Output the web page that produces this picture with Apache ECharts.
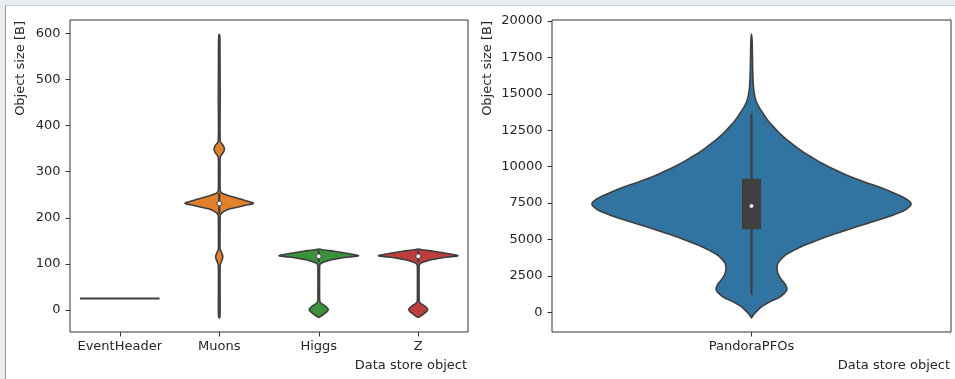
<!DOCTYPE html>
<html><head><meta charset="utf-8">
<script src="https://cdn.jsdelivr.net/npm/echarts@6/dist/echarts.min.js"></script>
<style>
html,body{margin:0;padding:0;width:955px;height:379px;overflow:hidden;background:#e9edf1;}
#frame{position:absolute;left:5px;top:5px;right:0;bottom:0;background:#fff;border-left:1px solid #8d949b;border-top:1px solid #cfd4d9;}
#chart{position:absolute;left:0;top:0;width:955px;height:379px;}
</style></head><body><div id="frame"></div><div id="chart"></div>
<script>
// ---------- data ----------
const leftCategories = ['EventHeader', 'Muons', 'Higgs', 'Z'];
const rightCategories = ['PandoraPFOs'];
const leftTicks = [0, 100, 200, 300, 400, 500, 600];
const rightTicks = [0, 2500, 5000, 7500, 10000, 12500, 15000, 17500, 20000];
const leftRange = [-47.7, 628.9];
const rightRange = [-1353, 20069];
const yLabel = 'Object size [B]';
const xLabel = 'Data store object';

// EventHeader: a single constant value
const eventHeaderValue = 25;

// violin profiles: [object size, relative density (1 = widest violin of the panel)]
const muonsProfile = [
  [-17, 0], [-12, 0.02], [50, 0.02], [97, 0.022], [102, 0.04], [106, 0.06], [111, 0.08], [115.5, 0.09],
  [120, 0.08], [125, 0.055], [129, 0.035], [134, 0.02], [180, 0.02], [205, 0.025], [209, 0.05],
  [214, 0.12], [219, 0.25], [223, 0.45], [227, 0.66], [231.5, 0.86], [236, 0.72], [240, 0.56],
  [244, 0.4], [248, 0.24], [252, 0.1], [256, 0.04], [260, 0.022], [300, 0.02], [331, 0.025],
  [337, 0.06], [343, 0.11], [349, 0.13], [355, 0.11], [361, 0.06], [366, 0.025], [420, 0.02],
  [460, 0.024], [520, 0.02], [592, 0.015], [598, 0]
];
const higgsProfile = [
  [-16, 0], [-12, 0.08], [-7, 0.16], [-2, 0.22], [1.5, 0.24], [5, 0.21], [10, 0.14], [14, 0.07],
  [18, 0.03], [24, 0.022], [60, 0.02], [97, 0.024], [100, 0.045], [103, 0.1], [106, 0.2],
  [109, 0.32], [112, 0.5], [115, 0.75], [117.5, 1.0], [120, 0.9], [122.5, 0.74], [125, 0.56],
  [127.5, 0.38], [130, 0.15], [132, 0]
];
const zProfile = [
  [-16, 0], [-12, 0.08], [-7, 0.16], [-2, 0.22], [1.5, 0.24], [5, 0.21], [10, 0.14], [14, 0.07],
  [18, 0.03], [24, 0.022], [60, 0.02], [97, 0.024], [100, 0.045], [103, 0.1], [106, 0.2],
  [109, 0.32], [112, 0.5], [115, 0.75], [117.5, 1.0], [120, 0.9], [122.5, 0.74], [125, 0.56],
  [127.5, 0.38], [130, 0.15], [132, 0]
];
const pandoraProfile = [
  [-380, 0], [-250, 0.008], [-100, 0.018], [50, 0.03], [200, 0.045], [400, 0.065], [600, 0.095],
  [800, 0.13], [1000, 0.17], [1250, 0.2], [1550, 0.222], [1850, 0.215], [2150, 0.195],
  [2450, 0.175], [2750, 0.163], [3050, 0.16], [3350, 0.165], [3650, 0.185], [3950, 0.215],
  [4250, 0.265], [4550, 0.32], [4850, 0.39], [5150, 0.46], [5450, 0.54], [5750, 0.625],
  [6050, 0.71], [6350, 0.8], [6650, 0.88], [6950, 0.95], [7250, 0.99], [7480, 1.0], [7700, 0.98],
  [8000, 0.93], [8300, 0.87], [8600, 0.8], [8900, 0.72], [9200, 0.645], [9500, 0.58],
  [9800, 0.52], [10100, 0.465], [10400, 0.415], [10700, 0.37], [11000, 0.325], [11300, 0.285],
  [11600, 0.25], [11900, 0.215], [12200, 0.185], [12500, 0.158], [12800, 0.132], [13100, 0.108],
  [13400, 0.088], [13700, 0.07], [14000, 0.052], [14300, 0.037], [14600, 0.026], [15000, 0.018],
  [15500, 0.012], [16500, 0.008], [17500, 0.006], [18600, 0.004], [19096, 0]
];

// inner box statistics: [whisker low, q1, median, q3, whisker high]
const muonsBox = [208, 229, 231, 233, 254];
const higgsBox = [104, 115, 116.5, 118, 129];
const zBox = [104, 115, 116.5, 118, 129];
const pandoraBox = [1190, 5700, 7300, 9170, 13660];

// ---------- styling ----------
const FONT = 'DejaVu Sans';
const GRAY = '#3f3f3f';
const TEXT = '#262626';
const COLORS = { Muons: '#e1812c', Higgs: '#3a923a', Z: '#c03d3e', PandoraPFOs: '#3274a1' };

function violinSeries(gridIdx, catIdx, profile, box, color) {
  return {
    type: 'custom', xAxisIndex: gridIdx, yAxisIndex: gridIdx,
    data: [[catIdx, box[2]]],
    encode: { x: 0, y: 1 },
    silent: true, z: 5,
    renderItem: function (params, api) {
      const cat = api.value(0);
      const bw = api.size([1, 0])[0];
      const half = 0.4 * bw;
      const right = [], left = [];
      profile.forEach(function (p) {
        const c = api.coord([cat, p[0]]);
        right.push([c[0] + p[1] * half, c[1]]);
        if (p[1] > 0) left.push([c[0] - p[1] * half, c[1]]);
      });
      const pts = right.concat(left.reverse());
      const lo = api.coord([cat, box[0]]), q1 = api.coord([cat, box[1]]),
            med = api.coord([cat, box[2]]), q3 = api.coord([cat, box[3]]), hi = api.coord([cat, box[4]]);
      const boxW = Math.max(2, bw * 0.016);
      return {
        type: 'group',
        children: [
          { type: 'polygon', shape: { points: pts, smooth: 0.3 },
            style: { fill: color, stroke: GRAY, lineWidth: 1.6, lineJoin: 'round' } },
          { type: 'line', shape: { x1: lo[0], y1: lo[1], x2: hi[0], y2: hi[1] },
            style: { stroke: GRAY, lineWidth: 2.2 } },
          { type: 'line', shape: { x1: q1[0], y1: q1[1], x2: q3[0], y2: q3[1] },
            style: { stroke: GRAY, lineWidth: 3 * boxW } },
          { type: 'circle', shape: { cx: med[0], cy: med[1], r: 2.3 },
            style: { fill: '#ffffff', stroke: GRAY, lineWidth: 0.8 } }
        ]
      };
    }
  };
}

const constantSeries = {
  type: 'custom', xAxisIndex: 0, yAxisIndex: 0,
  data: [[0, eventHeaderValue]], encode: { x: 0, y: 1 }, silent: true, z: 5,
  renderItem: function (params, api) {
    const c = api.coord([api.value(0), api.value(1)]);
    const half = 0.4 * api.size([1, 0])[0];
    return { type: 'line', shape: { x1: c[0] - half, y1: c[1], x2: c[0] + half, y2: c[1] },
      style: { stroke: GRAY, lineWidth: 2 } };
  }
};

function xAxisCfg(gridIdx, cats) {
  return {
    gridIndex: gridIdx, type: 'category', data: cats, boundaryGap: true, position: 'bottom',
    axisLine: { show: false, onZero: false },
    axisTick: { show: true, interval: 0, alignWithLabel: true, length: 4.5, lineStyle: { color: '#333', width: 1 } },
    axisLabel: { interval: 0, fontFamily: FONT, fontSize: 13, color: TEXT, margin: 8.5 },
    splitLine: { show: false }
  };
}
function yAxisCfg(gridIdx, range, ticks) {
  return {
    gridIndex: gridIdx, type: 'value', min: range[0], max: range[1],
    axisLine: { show: false, onZero: false },
    axisTick: { show: true, length: 4.5, customValues: ticks, lineStyle: { color: '#333', width: 1 } },
    axisLabel: { fontFamily: FONT, fontSize: 13, color: TEXT, margin: 9.5, customValues: ticks,
      formatter: function (v) { return String(v); } },
    splitLine: { show: false }
  };
}

const chart = echarts.init(document.getElementById('chart'), null, { renderer: 'canvas' });
chart.setOption({
  animation: false,
  backgroundColor: 'transparent',
  grid: [
    { left: 70, top: 20, width: 398, height: 312, show: true, borderColor: '#333', borderWidth: 1, backgroundColor: 'transparent' },
    { left: 552, top: 20, width: 399, height: 312, show: true, borderColor: '#333', borderWidth: 1, backgroundColor: 'transparent' }
  ],
  xAxis: [xAxisCfg(0, leftCategories), xAxisCfg(1, rightCategories)],
  yAxis: [yAxisCfg(0, leftRange, leftTicks), yAxisCfg(1, rightRange, rightTicks)],
  series: [
    constantSeries,
    violinSeries(0, 1, muonsProfile, muonsBox, COLORS.Muons),
    violinSeries(0, 2, higgsProfile, higgsBox, COLORS.Higgs),
    violinSeries(0, 3, zProfile, zBox, COLORS.Z),
    violinSeries(1, 0, pandoraProfile, pandoraBox, COLORS.PandoraPFOs)
  ],
  graphic: [
    { type: 'text', x: 14, y: 21, rotation: Math.PI / 2,
      style: { text: yLabel, font: '13px "DejaVu Sans"', fill: TEXT, textAlign: 'right', textVerticalAlign: 'top' } },
    { type: 'text', x: 481, y: 21, rotation: Math.PI / 2,
      style: { text: yLabel, font: '13px "DejaVu Sans"', fill: TEXT, textAlign: 'right', textVerticalAlign: 'top' } },
    { type: 'text', x: 467, y: 366,
      style: { text: xLabel, font: '13px "DejaVu Sans"', fill: TEXT, textAlign: 'right', textVerticalAlign: 'middle' } },
    { type: 'text', x: 950, y: 366,
      style: { text: xLabel, font: '13px "DejaVu Sans"', fill: TEXT, textAlign: 'right', textVerticalAlign: 'middle' } }
  ]
});
</script>
</body></html>
